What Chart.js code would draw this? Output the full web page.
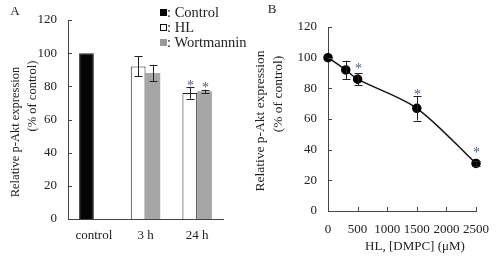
<!DOCTYPE html>
<html>
<head>
<meta charset="utf-8">
<script src="https://cdn.jsdelivr.net/npm/chart.js@4.4.1/dist/chart.umd.min.js"></script>
<style>
  body { margin: 0; background: #fff; font-family: "Liberation Serif", serif; color: #222; }
  #wrap { position: relative; width: 500px; height: 260px; overflow: hidden; }
  .panel { position: absolute; top: 0; width: 250px; height: 260px; }
  .txt { position: absolute; white-space: nowrap; line-height: 1; }
  .rot { transform: translate(-50%, -50%) rotate(-90deg); }
  .ctr { transform: translate(-50%, -50%); }
  .sq { position: absolute; width: 7px; height: 7px; box-sizing: border-box; }
</style>
</head>
<body>
<div id="wrap">
  <div class="panel" style="left:0"><canvas id="chartA" width="250" height="260"></canvas></div>
  <div class="panel" style="left:250px"><canvas id="chartB" width="250" height="260"></canvas></div>

  <!-- panel letters -->
  <div class="txt ctr" style="left:15px;top:10px;font-size:13px">A</div>
  <div class="txt ctr" style="left:272px;top:8px;font-size:13px">B</div>

  <!-- y titles -->
  <div class="txt rot" style="left:15px;top:132px;font-size:12.5px">Relative p-Akt expression</div>
  <div class="txt rot" style="left:32px;top:96px;font-size:12.5px">(% of control)</div>
  <div class="txt rot" style="left:260px;top:121px;font-size:13.5px">Relative p-Akt expression</div>
  <div class="txt rot" style="left:278px;top:94px;font-size:13.5px">(% of control)</div>

  <!-- x title B -->
  <div class="txt ctr" style="left:415px;top:245px;font-size:13px">HL, [DMPC] (μM)</div>

  <!-- legend A -->
  <div class="sq" style="left:160px;top:9px;background:#050505"></div>
  <div class="txt" style="left:167px;top:5px;font-size:14.5px">: Control</div>
  <div class="sq" style="left:160px;top:24px;background:#fff;border:1px solid #111"></div>
  <div class="txt" style="left:167px;top:20px;font-size:14.5px">: HL</div>
  <div class="sq" style="left:160px;top:39px;background:#999"></div>
  <div class="txt" style="left:167px;top:35px;font-size:14.5px">: Wortmannin</div>
</div>

<script>
// ---- panel A data ----
const groupsA = ["control", "3 h", "24 h"];
const controlA = [100, null, null];
const hlA = [null, 92, 76];
const hlErrA = [0, 6, 3.5];
const hlSigA = [false, false, true];
const wortA = [null, 88, 77];
const wortErrA = [0, 5, 1];
const wortSigA = [false, false, true];
const yTicks = [0, 20, 40, 60, 80, 100, 120];

// ---- panel B data ----
const doseB = [0, 300, 500, 1500, 2500];
const pAktB = [100, 92, 86, 67, 31];
const errB = [0, 6, 4, 8, 1.5];
const sigB = [false, false, true, true, true];
const xTicksB = [0, 500, 1000, 1500, 2000, 2500];

const tickFont = { family: "'Liberation Serif', serif", size: 13 };
const axisColor = "#444";

// short ticks pointing into the plot area
const inwardTicks = {
  id: "inwardTicks",
  afterDraw(chart) {
    const ctx = chart.ctx, a = chart.chartArea;
    ctx.save();
    ctx.strokeStyle = axisColor;
    ctx.lineWidth = 1;
    ctx.beginPath();
    const ys = chart.scales.y;
    ys.ticks.forEach(t => {
      const p = Math.round(ys.getPixelForValue(t.value)) + 0.5;
      ctx.moveTo(a.left, p);
      ctx.lineTo(a.left + 4, p);
    });
    const xs = chart.scales.x;
    if (xs.type === "linear") {
      xs.ticks.forEach(t => {
        const p = Math.round(xs.getPixelForValue(t.value)) + 0.5;
        ctx.moveTo(p, a.bottom);
        ctx.lineTo(p, a.bottom - 4);
      });
    }
    ctx.stroke();
    ctx.restore();
  }
};

// error bars + significance stars, read from dataset.errors / dataset.stars
const errorBars = {
  id: "errorBars",
  afterDatasetsDraw(chart) {
    const ctx = chart.ctx, ys = chart.scales.y;
    ctx.save();
    chart.data.datasets.forEach((ds, di) => {
      const meta = chart.getDatasetMeta(di);
      meta.data.forEach((el, i) => {
        const raw = ds.data[i];
        const v = raw != null && typeof raw === "object" ? raw.y : raw;
        if (v == null) return;
        const e = ds.errors ? ds.errors[i] : 0;
        const x = Math.round(el.x) + 0.5;
        const top = ys.getPixelForValue(v + e);
        if (e > 0) {
          const bot = ys.getPixelForValue(v - e);
          ctx.strokeStyle = "#222";
          ctx.lineWidth = 1;
          ctx.beginPath();
          ctx.moveTo(x, top); ctx.lineTo(x, bot);
          ctx.moveTo(x - 4, Math.round(top) + 0.5); ctx.lineTo(x + 4, Math.round(top) + 0.5);
          ctx.moveTo(x - 4, Math.round(bot) + 0.5); ctx.lineTo(x + 4, Math.round(bot) + 0.5);
          ctx.stroke();
        }
        if (ds.stars && ds.stars[i]) {
          // points: keep the star clear of the marker
          const anchor = ds.pointRadius ? Math.min(top, el.y - 9) : top;
          ctx.fillStyle = "#4d5b7c";
          ctx.font = "14px 'Liberation Serif'";
          ctx.textAlign = "center";
          ctx.textBaseline = "middle";
          ctx.fillText("*", x, anchor - 1);
        }
      });
    });
    ctx.restore();
  }
};

// Panel A: grouped bars (first slot = control / HL, second slot = wortmannin)
new Chart(document.getElementById("chartA"), {
  type: "bar",
  data: {
    labels: groupsA,
    datasets: [
      {
        label: "Control / HL",
        data: groupsA.map((_, i) => controlA[i] ?? hlA[i]),
        backgroundColor: groupsA.map((_, i) => controlA[i] != null ? "#050505" : "#ffffff"),
        borderColor: "#222",
        borderWidth: 1,
        errors: hlErrA,
        stars: hlSigA
      },
      {
        label: "Wortmannin",
        data: wortA,
        backgroundColor: "#a6a6a6",
        borderWidth: 0,
        errors: wortErrA,
        stars: wortSigA
      }
    ]
  },
  options: {
    responsive: false,
    animation: false,
    layout: { padding: { top: 20, right: 27, left: 0, bottom: 0 } },
    plugins: { legend: { display: false }, tooltip: { enabled: false } },
    datasets: { bar: { categoryPercentage: 0.57, barPercentage: 1 } },
    scales: {
      x: {
        grid: { display: false, drawTicks: false },
        border: { color: axisColor },
        ticks: { font: tickFont, color: "#222", padding: 9 },
        afterFit: s => { s.height = 41; }
      },
      y: {
        min: 0, max: 120,
        afterBuildTicks: s => { s.ticks = yTicks.map(v => ({ value: v })); },
        grid: { display: false, drawTicks: false },
        border: { color: axisColor },
        ticks: { font: tickFont, color: "#222", padding: 11 },
        afterFit: s => { s.width = 68; }
      }
    }
  },
  plugins: [inwardTicks, errorBars]
});

// Panel B: dose response line
new Chart(document.getElementById("chartB"), {
  type: "line",
  data: {
    datasets: [{
      label: "HL",
      data: doseB.map((d, i) => ({ x: d, y: pAktB[i] })),
      borderColor: "#111",
      borderWidth: 1.5,
      pointRadius: 4,
      pointBackgroundColor: "#000",
      pointBorderColor: "#000",
      tension: 0.3,
      clip: false,
      errors: errB,
      stars: sigB
    }]
  },
  options: {
    responsive: false,
    animation: false,
    layout: { padding: { top: 27, right: 17, left: 0, bottom: 0 } },
    plugins: { legend: { display: false }, tooltip: { enabled: false } },
    scales: {
      x: {
        type: "linear", min: 0, max: 2500,
        afterBuildTicks: s => { s.ticks = xTicksB.map(v => ({ value: v })); },
        grid: { display: false, drawTicks: false },
        border: { color: axisColor },
        ticks: { font: tickFont, color: "#222", padding: 11, maxRotation: 0, autoSkip: false, callback: v => String(v) },
        afterFit: s => { s.height = 49; }
      },
      y: {
        min: 0, max: 120,
        afterBuildTicks: s => { s.ticks = yTicks.map(v => ({ value: v })); },
        grid: { display: false, drawTicks: false },
        border: { color: axisColor },
        ticks: { font: tickFont, color: "#222", padding: 11 },
        afterFit: s => { s.width = 78; }
      }
    }
  },
  plugins: [inwardTicks, errorBars]
});
</script>
</body>
</html>
